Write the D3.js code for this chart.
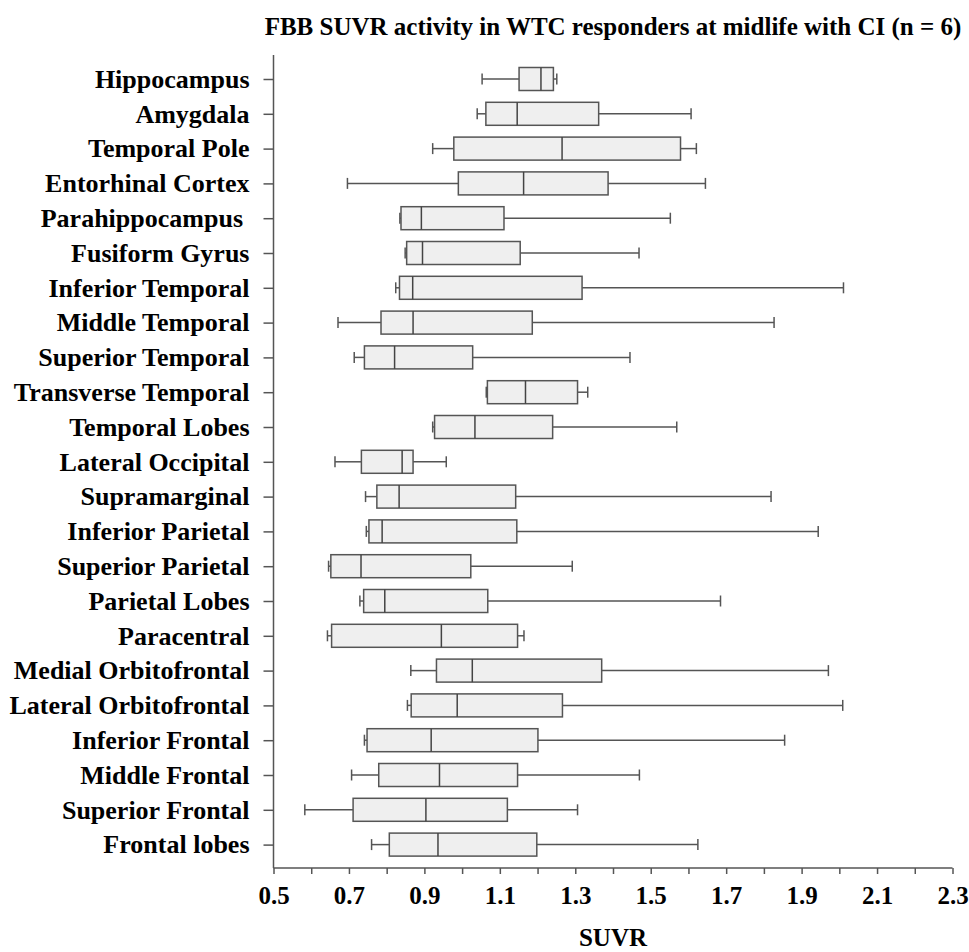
<!DOCTYPE html>
<html>
<head>
<meta charset="utf-8">
<script src="https://cdn.jsdelivr.net/npm/d3@7"></script>
<style>
  body { margin: 0; background: #fff; }
  text { font-family: "Liberation Serif", "Times New Roman", serif; font-weight: bold; fill: #000; }
</style>
</head>
<body>
<svg id="chart" width="969" height="952"></svg>
<script>
    // regions, top to bottom
    var regions = ["Hippocampus", "Amygdala", "Temporal Pole", "Entorhinal Cortex", "Parahippocampus ",
        "Fusiform Gyrus", "Inferior Temporal", "Middle Temporal", "Superior Temporal", "Transverse Temporal",
        "Temporal Lobes", "Lateral Occipital", "Supramarginal", "Inferior Parietal", "Superior Parietal",
        "Parietal Lobes", "Paracentral", "Medial Orbitofrontal", "Lateral Orbitofrontal", "Inferior Frontal",
        "Middle Frontal", "Superior Frontal", "Frontal lobes"];

    var mins    = [1.053, 1.040, 0.922, 0.696, 0.835, 0.849, 0.824, 0.671, 0.714, 1.064, 0.922, 0.663, 0.744, 0.746, 0.646, 0.729, 0.643, 0.864, 0.855, 0.741, 0.707, 0.583, 0.760];
    var q1s     = [1.151, 1.063, 0.978, 0.990, 0.838, 0.853, 0.834, 0.785, 0.741, 1.067, 0.927, 0.733, 0.774, 0.753, 0.652, 0.739, 0.654, 0.932, 0.865, 0.748, 0.779, 0.711, 0.807];
    var medians = [1.209, 1.146, 1.265, 1.163, 0.892, 0.895, 0.869, 0.870, 0.821, 1.168, 1.034, 0.841, 0.833, 0.788, 0.732, 0.795, 0.945, 1.027, 0.987, 0.918, 0.940, 0.904, 0.936];
    var q3s     = [1.242, 1.362, 1.579, 1.387, 1.111, 1.154, 1.318, 1.186, 1.028, 1.306, 1.240, 0.870, 1.142, 1.145, 1.023, 1.068, 1.147, 1.370, 1.266, 1.201, 1.147, 1.120, 1.198];
    var maxs    = [1.251, 1.607, 1.621, 1.645, 1.552, 1.469, 2.011, 1.827, 1.445, 1.333, 1.569, 0.958, 1.819, 1.944, 1.292, 1.685, 1.164, 1.971, 2.009, 1.855, 1.470, 1.306, 1.625];

    var xTicks = [0.5, 0.6, 0.7, 0.8, 0.9, 1.0, 1.1, 1.2, 1.3, 1.4, 1.5, 1.6, 1.7, 1.8, 1.9, 2.0, 2.1, 2.2, 2.3];
    var xLabels = [0.5, 0.7, 0.9, 1.1, 1.3, 1.5, 1.7, 1.9, 2.1, 2.3];

    var svg = d3.select("#chart");
    var plotL = 273.5, plotR = 952.5, plotT = 55, plotB = 868;
    var boxH = 23, capH = 11;
    var lineCol = "#555";

    var x = d3.scaleLinear().domain([0.5, 2.3]).range([plotL, plotR]);
    var y = d3.scalePoint().domain(regions).range([79, 844.6]);

    var data = regions.map(function(r, i) {
        return { name: r, min: mins[i], q1: q1s[i], med: medians[i], q3: q3s[i], max: maxs[i] };
    });

    // title
    svg.append("text")
        .attr("x", (plotL + plotR) / 2)
        .attr("y", 35)
        .attr("text-anchor", "middle")
        .style("font-size", "25px")
        .text("FBB SUVR activity in WTC responders at midlife with CI (n = 6)");

    // y axis
    var yAxis = svg.append("g").attr("transform", "translate(" + plotL + ",0)")
        .call(d3.axisLeft(y).tickSize(10).tickPadding(14));
    yAxis.select(".domain").attr("d", "M0," + plotT + "V" + plotB).attr("stroke", lineCol).attr("stroke-width", 1.5);
    yAxis.selectAll(".tick line").attr("stroke", lineCol).attr("stroke-width", 1.5);
    yAxis.selectAll(".tick text")
        .style("font-size", "26px")
        .style("white-space", "pre")
        .attr("fill", "#000");

    // x axis
    var xAxis = svg.append("g").attr("transform", "translate(0," + plotB + ")")
        .call(d3.axisBottom(x).tickValues(xTicks).tickSize(6).tickPadding(12)
            .tickFormat(function(d) { return xLabels.some(function(v) { return Math.abs(v - d) < 1e-9; }) ? d3.format(".1f")(d) : ""; }));
    xAxis.select(".domain").attr("d", "M" + plotL + ",0H" + plotR).attr("stroke", lineCol).attr("stroke-width", 1.5);
    xAxis.selectAll(".tick line").attr("stroke", lineCol).attr("stroke-width", 1.5);
    xAxis.selectAll(".tick text").style("font-size", "25px").attr("fill", "#000");

    svg.append("text")
        .attr("x", (plotL + plotR) / 2)
        .attr("y", 946)
        .attr("text-anchor", "middle")
        .style("font-size", "25px")
        .text("SUVR");

    // boxes
    var g = svg.selectAll("g.box").data(data).enter().append("g").attr("class", "box");

    g.append("line")
        .attr("x1", d => x(d.min)).attr("x2", d => x(d.q1))
        .attr("y1", d => y(d.name)).attr("y2", d => y(d.name))
        .attr("stroke", lineCol).attr("stroke-width", 1.5);
    g.append("line")
        .attr("x1", d => x(d.q3)).attr("x2", d => x(d.max))
        .attr("y1", d => y(d.name)).attr("y2", d => y(d.name))
        .attr("stroke", lineCol).attr("stroke-width", 1.5);
    g.append("line")
        .attr("x1", d => x(d.min)).attr("x2", d => x(d.min))
        .attr("y1", d => y(d.name) - capH / 2).attr("y2", d => y(d.name) + capH / 2)
        .attr("stroke", lineCol).attr("stroke-width", 1.5);
    g.append("line")
        .attr("x1", d => x(d.max)).attr("x2", d => x(d.max))
        .attr("y1", d => y(d.name) - capH / 2).attr("y2", d => y(d.name) + capH / 2)
        .attr("stroke", lineCol).attr("stroke-width", 1.5);

    g.append("rect")
        .attr("x", d => x(d.q1))
        .attr("y", d => y(d.name) - boxH / 2)
        .attr("width", d => x(d.q3) - x(d.q1))
        .attr("height", boxH)
        .attr("fill", "#efefef")
        .attr("stroke", lineCol)
        .attr("stroke-width", 1.5);

    g.append("line")
        .attr("x1", d => x(d.med)).attr("x2", d => x(d.med))
        .attr("y1", d => y(d.name) - boxH / 2).attr("y2", d => y(d.name) + boxH / 2)
        .attr("stroke", "#444").attr("stroke-width", 1.5);
</script>
</body>
</html>
